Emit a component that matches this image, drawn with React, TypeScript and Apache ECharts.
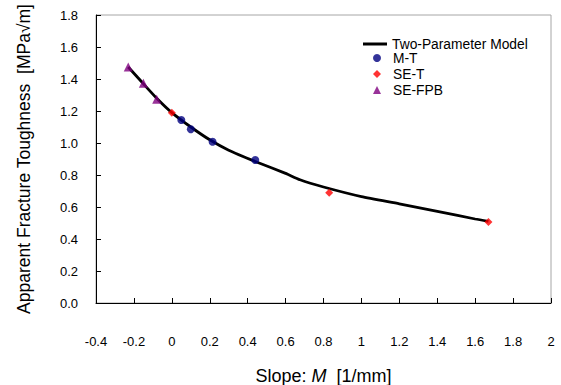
import React, { useEffect, useRef } from "react";
import * as echarts from "echarts";

const modelX = [-0.23, -0.15, -0.08, 0, 0.1, 0.2, 0.3, 0.45, 0.6, 0.676, 0.8, 1.0, 1.2, 1.414, 1.6, 1.67];
const modelY = [1.475, 1.37, 1.28, 1.19, 1.1, 1.02, 0.955, 0.88, 0.81, 0.77, 0.725, 0.665, 0.62, 0.57, 0.525, 0.51];

const mtX = [0.05, 0.1, 0.215, 0.44];
const mtY = [1.144, 1.086, 1.008, 0.894];

const setX = [0.0, 0.83, 1.67];
const setY = [1.189, 0.689, 0.506];

const sefpbX = [-0.23, -0.15, -0.08];
const sefpbY = [1.475, 1.373, 1.273];

const seriesNames = ["Two-Parameter Model", "M-T", "SE-T", "SE-FPB"];

const pairs = (xs: number[], ys: number[]) => xs.map((x, i) => [x, ys[i]]);

const FONT = "Liberation Sans, Arial, sans-serif";

export default function App() {
  const ref = useRef<HTMLDivElement>(null);
  useEffect(() => {
    if (!ref.current) return;
    const chart = echarts.init(ref.current, undefined, { renderer: "svg" });
    chart.setOption({
      animation: false,
      backgroundColor: "#ffffff",
      textStyle: { fontFamily: FONT },
      grid: {
        left: 96,
        top: 15,
        right: 10,
        bottom: 82,
        outerBoundsMode: "none",
        containLabel: false,
        show: true,
        borderColor: "#a6a6a6",
        borderWidth: 1,
        backgroundColor: "transparent",
      },
      legend: [
        {
          data: [{ name: seriesNames[0], icon: "rect" }],
          orient: "vertical",
          left: 363,
          top: 37,
          padding: 0,
          itemWidth: 24,
          itemHeight: 3,
          itemStyle: { color: "#000" },
          textStyle: { fontFamily: FONT, fontSize: 13.8, color: "#000" },
        },
        {
          data: seriesNames.slice(1),
          orient: "vertical",
          left: 373,
          top: 51,
          padding: 0,
          itemWidth: 8,
          itemHeight: 8,
          itemGap: 2,
          textStyle: {
            fontFamily: FONT,
            fontSize: 13.8,
            color: "#000",
            lineHeight: 14,
            padding: [0, 0, 0, 7],
          },
        },
      ],
      xAxis: {
        type: "value",
        min: -0.4,
        max: 2,
        interval: 0.2,
        name: "Slope: {i|M}  [1/mm]",
        nameLocation: "middle",
        nameGap: 64,
        nameTextStyle: {
          fontFamily: FONT,
          fontSize: 18,
          color: "#000",
          rich: {
            i: { fontFamily: FONT, fontSize: 18, fontStyle: "italic", color: "#000" },
          },
        },
        axisLine: { show: true, onZero: false, lineStyle: { color: "#000", width: 1 } },
        axisTick: { show: true, inside: true, length: 5, lineStyle: { color: "#000" } },
        axisLabel: {
          margin: 32,
          fontFamily: FONT,
          fontSize: 13,
          color: "#000",
          formatter: (v: number) => String(Math.round(v * 10) / 10),
        },
        splitLine: { show: false },
      },
      yAxis: {
        type: "value",
        min: 0,
        max: 1.8,
        interval: 0.2,
        name: "Apparent Fracture Toughness  [MPa√m]",
        nameLocation: "middle",
        nameGap: 63,
        nameTextStyle: { fontFamily: FONT, fontSize: 17.5, color: "#000" },
        axisLine: { show: true, onZero: false, lineStyle: { color: "#000", width: 1 } },
        axisTick: { show: true, inside: true, length: 5, lineStyle: { color: "#000" } },
        axisLabel: {
          margin: 18,
          fontFamily: FONT,
          fontSize: 13,
          color: "#000",
          formatter: (v: number) => v.toFixed(1),
        },
        splitLine: { show: false },
      },
      series: [
        {
          name: seriesNames[0],
          type: "line",
          data: pairs(modelX, modelY),
          symbol: "none",
          showSymbol: false,
          smooth: 0.2,
          lineStyle: { color: "#000", width: 2.8 },
          itemStyle: { color: "#000" },
          z: 2,
        },
        {
          name: seriesNames[1],
          type: "scatter",
          data: pairs(mtX, mtY),
          symbol: "circle",
          symbolSize: 8,
          itemStyle: { color: "#000080" },
          z: 3,
        },
        {
          name: seriesNames[2],
          type: "scatter",
          data: pairs(setX, setY),
          symbol: "diamond",
          symbolSize: 8,
          itemStyle: { color: "#ff0000" },
          z: 3,
        },
        {
          name: seriesNames[3],
          type: "scatter",
          data: pairs(sefpbX, sefpbY),
          symbol: "triangle",
          symbolSize: 9,
          itemStyle: { color: "#800080" },
          z: 3,
        },
      ],
    });
    return () => chart.dispose();
  }, []);
  return <div ref={ref} style={{ width: 561, height: 385, position: "absolute", left: 0, top: 0 }} />;
}
